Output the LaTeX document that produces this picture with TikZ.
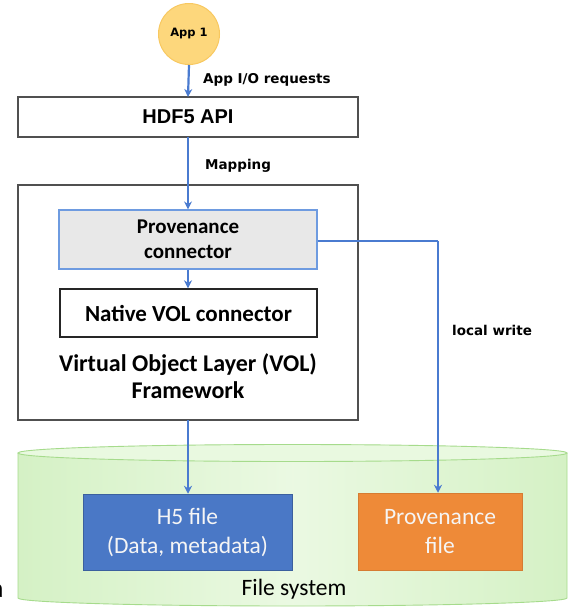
\documentclass[tikz,border=0pt]{standalone}
\usepackage{fontspec}
\setmainfont{Carlito}
\newfontfamily\arialfont{Liberation Sans}
\newfontfamily\widefont{DejaVu Sans}
\usetikzlibrary{arrows.meta,positioning}
\definecolor{flowblue}{HTML}{4A7BD0}
\definecolor{hfblue}{HTML}{4A78C6}
\definecolor{provorange}{HTML}{EE8A38}
\definecolor{appfill}{HTML}{FDD77C}
\definecolor{appedge}{HTML}{F8C860}
\definecolor{fsedge}{HTML}{A6DB8C}
\definecolor{fsfill}{HTML}{DDF5CF}
\definecolor{fstop}{HTML}{E9F9E0}
\definecolor{boxedge}{HTML}{505050}
\definecolor{connfill}{HTML}{E8E8E8}
\definecolor{connedge}{HTML}{6E9BE0}
\tikzset{
  flow/.style={draw=flowblue,line width=2.2pt,-{Stealth[length=8pt,width=8pt]}},
  flowline/.style={draw=flowblue,line width=2.2pt},
  plainbox/.style={draw=boxedge,line width=1.4pt,fill=white,inner sep=0pt},
  lbl/.style={font=\widefont\bfseries\fontsize{13.5}{16}\selectfont,anchor=west,inner sep=0pt},
  filebox/.style={text=white!92!gray,font=\fontsize{23.5}{29}\selectfont,align=center,inner sep=0pt}
}
\begin{document}
\begin{tikzpicture}[x=1pt,y=-1pt]
\useasboundingbox (0,0) rectangle (568,608);
\fill[white] (0,0) rectangle (568,608);

% file system cylinder
\shade[left color=fsfill!85!fsedge,right color=fsfill!85!fsedge,middle color=fsfill!60!white]
  (18,453) -- (18,598) arc[start angle=180,end angle=0,x radius=274.5,y radius=8]
  -- (567,453) arc[start angle=0,end angle=-180,x radius=274.5,y radius=8.5] -- cycle;
\draw[fsedge,line width=0.9pt]
  (18,453) -- (18,598) arc[start angle=180,end angle=0,x radius=274.5,y radius=8]
  -- (567,453);
\draw[fsedge,line width=0.9pt,fill=fstop] (292.5,453) ellipse[x radius=274.5,y radius=8.5];
\node[font=\fontsize{23.5}{28}\selectfont,inner sep=0pt] (fs) at (294,589) {File system};

% application
\node[circle,draw=appedge,line width=1pt,fill=appfill,minimum size=61pt,inner sep=0pt,
  font=\widefont\bfseries\fontsize{11.5}{14}\selectfont] (app) at (189,34) {App 1};

% HDF5 API
\draw[plainbox] (18,97) rectangle (358,137);
\node[font=\arialfont\bfseries\fontsize{20}{24}\selectfont,inner sep=0pt] (hdf) at (188,117) {HDF5 API};
\coordinate (hdftop) at (188,97);
\coordinate (hdfbot) at (188,137);

% VOL framework
\draw[plainbox] (18,185) rectangle (358,420);
\coordinate (volbot) at (188,420);
\node[font=\bfseries\fontsize{24}{27}\selectfont,align=center,inner sep=0pt] (vol) at (188,376.5)
  {Virtual Object Layer (VOL)\\Framework};

% connectors inside the framework
\node[draw=connedge,line width=1.2pt,fill=connfill,minimum width=258pt,minimum height=59pt,
  font=\bfseries\fontsize{21}{25}\selectfont,align=center,inner sep=0pt] (prov) at (188,239.5)
  {Provenance\\connector};
\node[draw=black!85,line width=1.4pt,fill=white,minimum width=257pt,minimum height=48pt,
  font=\bfseries\fontsize{23}{26}\selectfont,inner sep=0pt] (native) at (188.5,313)
  {Native VOL connector};

% files
\node[fill=hfblue,draw=hfblue!80!black,line width=0.5pt,minimum width=209pt,minimum height=76pt,
  filebox] (h5) at (187.5,532) {H5 file\\(Data, metadata)};
\node[fill=provorange,draw=provorange!90!black,line width=0.5pt,minimum width=164pt,minimum height=77pt,
  filebox] (pf) at (440,531.5) {Provenance\\file};

% flows
\draw[flow] (app.south) -- (hdftop);
\node[lbl] (l1) at (203,80) {App I/O requests};
\draw[flow] (hdfbot) -- (prov.north -| hdfbot);
\node[lbl] (l2) at (205,166) {Mapping};
\draw[flow] (prov.south -| hdfbot) -- (native.north -| hdfbot);
\draw[flow] (volbot) -- (h5.north -| volbot);
\coordinate (bend) at (438,241);
\draw[flowline] (prov.east |- bend) -- (bend);
\draw[flow] (bend) -- (pf.north -| bend);
\node[lbl] (l3) at (452,330) {local write};

% clipped letter at the left margin
\node[font=\fontsize{27}{30}\selectfont,inner sep=0pt,anchor=base] (frag) at (-3,597) {a};
\end{tikzpicture}
\end{document}
